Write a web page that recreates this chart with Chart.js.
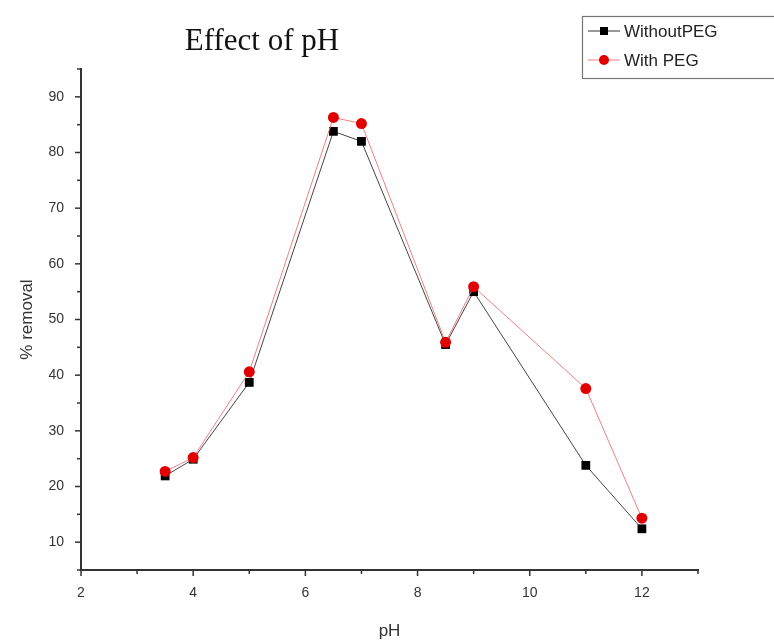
<!DOCTYPE html>
<html>
<head>
<meta charset="utf-8">
<script src="https://cdn.jsdelivr.net/npm/chart.js@4/dist/chart.umd.min.js"></script>
<style>
  html, body { margin: 0; padding: 0; background: #fff; }
  #wrap { width: 774px; height: 642px; position: relative; }
</style>
</head>
<body>
<div id="wrap"><canvas id="chart"></canvas></div>
<script>
// values
const phValues = [3.5, 4, 5, 6.5, 7, 8.5, 9, 11, 12];
const withoutPeg = [21.9, 24.9, 38.7, 83.8, 82.0, 45.5, 55.0, 23.8, 12.4];
const withPeg = [22.7, 25.2, 40.6, 86.3, 85.2, 45.9, 55.9, 37.6, 14.3];
const seriesNames = ['WithoutPEG', 'With PEG'];

const toPoints = ys => phValues.map((x, i) => ({ x: x, y: ys[i] }));

// tick marks drawn outward, long for labelled ticks, short for the rest
const axisTicks = {
  id: 'axisTicks',
  afterDraw(chart) {
    const ctx = chart.ctx;
    const xs = chart.scales.x, ys = chart.scales.y;
    ctx.save();
    ctx.strokeStyle = '#333';
    ctx.lineWidth = 1.5;
    for (let v = 2; v <= 13; v++) {
      const px = xs.getPixelForValue(v);
      const len = v % 2 === 0 ? 6 : 4;
      ctx.beginPath();
      ctx.moveTo(px, ys.bottom);
      ctx.lineTo(px, ys.bottom + len);
      ctx.stroke();
    }
    for (let v = 5; v <= 95; v += 5) {
      const py = ys.getPixelForValue(v);
      const len = v % 10 === 0 ? 6 : 4;
      ctx.beginPath();
      ctx.moveTo(xs.left, py);
      ctx.lineTo(xs.left - len, py);
      ctx.stroke();
    }
    ctx.restore();
  }
};

// serif title placed left of centre, and the boxed legend at top right
const decor = {
  id: 'decor',
  afterDraw(chart) {
    const ctx = chart.ctx;
    ctx.save();
    ctx.fillStyle = '#111';
    ctx.font = '31px "Liberation Serif", "Times New Roman", serif';
    ctx.textAlign = 'center';
    ctx.textBaseline = 'middle';
    ctx.fillText('Effect of pH', 262, 42);

    ctx.strokeStyle = '#777';
    ctx.lineWidth = 1.2;
    ctx.strokeRect(582.5, 16.5, 200, 62);

    const rows = [
      { y: 31, line: '#333', fill: '#000', shape: 'rect' },
      { y: 60, line: '#f08080', fill: '#e00000', shape: 'circle' }
    ];
    ctx.font = '17px "Liberation Sans", Arial, sans-serif';
    ctx.textAlign = 'left';
    rows.forEach((r, i) => {
      ctx.strokeStyle = r.line;
      ctx.lineWidth = 1;
      ctx.beginPath();
      ctx.moveTo(588, r.y);
      ctx.lineTo(620, r.y);
      ctx.stroke();
      ctx.fillStyle = r.fill;
      if (r.shape === 'rect') {
        ctx.fillRect(600, r.y - 4, 8, 8);
      } else {
        ctx.beginPath();
        ctx.arc(604, r.y, 5, 0, Math.PI * 2);
        ctx.fill();
      }
      ctx.fillStyle = '#222';
      ctx.fillText(seriesNames[i], 624, r.y + 1);
    });
    ctx.restore();
  }
};

new Chart(document.getElementById('chart'), {
  type: 'line',
  data: {
    datasets: [
      {
        label: seriesNames[1],
        data: toPoints(withPeg),
        borderColor: '#f08080',
        borderWidth: 1,
        pointStyle: 'circle',
        pointRadius: 5.5,
        pointBackgroundColor: '#e00000',
        pointBorderColor: '#e00000',
        pointBorderWidth: 0,
        tension: 0
      },
      {
        label: seriesNames[0],
        data: toPoints(withoutPeg),
        borderColor: '#444',
        borderWidth: 1,
        pointStyle: 'rect',
        pointRadius: 6.2,
        pointBackgroundColor: '#000',
        pointBorderColor: '#000',
        pointBorderWidth: 0,
        tension: 0
      }
    ]
  },
  options: {
    responsive: true,
    maintainAspectRatio: false,
    animation: false,
    layout: { padding: { left: 0, right: 76, top: 69, bottom: 0 } },
    plugins: {
      legend: { display: false },
      title: { display: false },
      tooltip: { enabled: false }
    },
    scales: {
      x: {
        type: 'linear',
        min: 2,
        max: 13,
        grid: { display: false },
        border: { display: true, color: '#333', width: 2 },
        ticks: {
          stepSize: 1,
          autoSkip: false,
          maxRotation: 0,
          padding: 7,
          color: '#333',
          font: { family: '"Liberation Sans", Arial, sans-serif', size: 14 },
          callback: v => (v % 2 === 0 ? v : '')
        },
        title: {
          display: true,
          text: 'pH',
          color: '#333',
          font: { family: '"Liberation Sans", Arial, sans-serif', size: 17 },
          padding: { top: 12, bottom: 0 }
        },
        afterFit: s => { s.height = 72; }
      },
      y: {
        min: 5,
        max: 95,
        grid: { display: false },
        border: { display: true, color: '#333', width: 2 },
        ticks: {
          stepSize: 5,
          autoSkip: false,
          padding: 9,
          color: '#333',
          font: { family: '"Liberation Sans", Arial, sans-serif', size: 14 },
          callback: v => (v % 10 === 0 ? v : '')
        },
        title: {
          display: true,
          text: '% removal',
          color: '#333',
          font: { family: '"Liberation Sans", Arial, sans-serif', size: 17 },
          padding: { top: 17, bottom: 0 }
        },
        afterFit: s => { s.width = 81; }
      }
    }
  },
  plugins: [axisTicks, decor]
});
</script>
</body>
</html>
